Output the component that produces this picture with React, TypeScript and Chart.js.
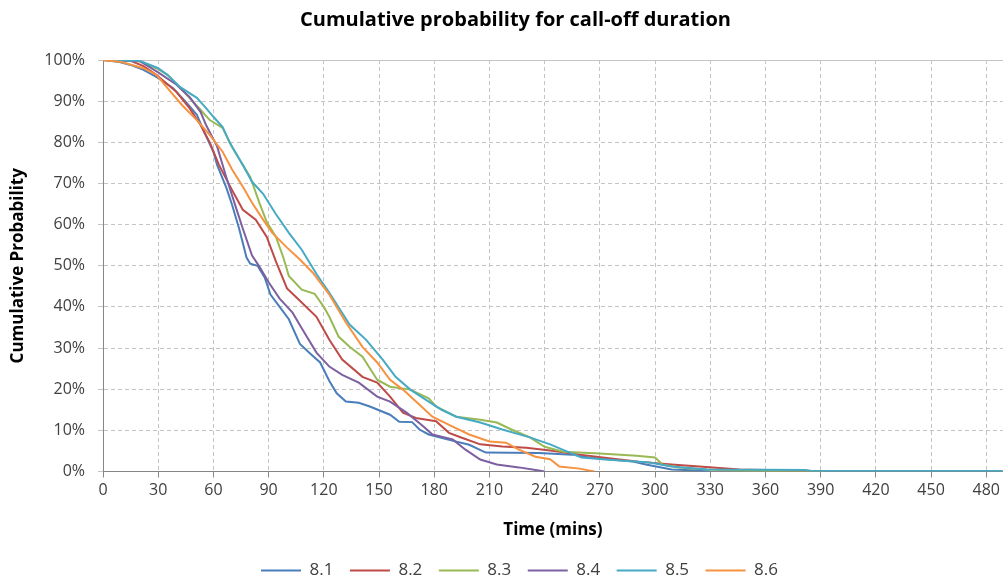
import { useEffect, useRef } from "react";
import { Chart, registerables } from "chart.js";

Chart.register(...registerables);

const FONT = "'Open Sans', sans-serif";

const seriesNames = ["8.1", "8.2", "8.3", "8.4", "8.5", "8.6"];
const seriesColors = ["#4A7EBB", "#BE4B48", "#98B954", "#7D60A0", "#46AAC5", "#F69240"];

const xTickValues = [0, 30, 60, 90, 120, 150, 180, 210, 240, 270, 300, 330, 360, 390, 420, 450, 480];
const yTickValues = [0, 10, 20, 30, 40, 50, 60, 70, 80, 90, 100];

// 8.1
const t81 = [0, 9, 15, 22, 29, 38, 45, 51, 55, 60, 62, 67, 70, 74, 78, 80, 84, 88, 91, 96, 101, 107, 113, 118, 123, 127, 132, 139, 145, 156, 161, 168, 172, 177, 187, 199, 208, 237, 255, 264, 288, 295, 309, 320, 330];
const p81 = [100, 99.5, 98.8, 97.6, 95.9, 93.2, 89.8, 86.7, 82.5, 77.7, 74.5, 69, 65, 59, 52, 50.5, 50, 47, 43, 40, 37, 31, 28.5, 26.5, 22, 19, 17, 16.7, 15.8, 13.8, 12.1, 12, 10.2, 9, 7.8, 6.5, 4.6, 4.5, 4.1, 3.4, 2.4, 1.7, 0.5, 0.3, 0];
// 8.2
const t82 = [0, 15, 22, 29, 40, 47, 53, 58, 63, 70, 76, 83, 89, 94, 100, 107, 116, 123, 130, 141, 149, 156, 163, 170, 181, 188, 195, 205, 217, 230, 243, 259, 275, 291, 309, 324, 346, 380, 390];
const p82 = [100, 99.8, 98.5, 96.4, 92.2, 88.3, 84.2, 80, 74.5, 68.5, 63.6, 61.2, 57, 51, 44.5, 41.5, 37.6, 32, 27.2, 23, 21.6, 18.2, 14.3, 13, 12.2, 9.4, 8.2, 6.6, 6.1, 5.8, 5.1, 4.1, 3.2, 2.4, 1.7, 1.2, 0.5, 0.2, 0];
// 8.3
const t83 = [0, 20, 30, 35, 42, 47, 53, 58, 65, 70, 75, 80, 85, 89, 94, 98, 101, 108, 115, 120, 123, 128, 134, 141, 149, 156, 167, 177, 181, 192, 205, 214, 222, 232, 240, 250, 270, 290, 300, 304, 313, 328, 350, 390];
const p83 = [100, 99.7, 97.8, 96.4, 93.2, 90.8, 87.9, 85.4, 83.5, 79, 75.2, 71.6, 65.3, 60.6, 57, 52, 47.5, 44.2, 43.2, 40, 37.6, 32.8, 30.3, 27.9, 22.3, 20.6, 19.9, 17.8, 15.8, 13.3, 12.6, 11.9, 10.2, 8.3, 6, 4.8, 4.4, 3.8, 3.4, 1.7, 1, 0.5, 0.2, 0];
// 8.4
const t84 = [0, 20, 30, 40, 47, 53, 56, 62, 67, 72, 76, 81, 85, 90, 96, 103, 108, 116, 123, 130, 139, 149, 156, 165, 174, 179, 190, 197, 205, 214, 226, 236, 240];
const p84 = [100, 99.7, 97, 94, 91, 87.4, 84.2, 79, 71.5, 64.5, 59, 52.5, 49.8, 46, 42, 38.6, 34.8, 28.9, 25.5, 23.5, 21.6, 18.2, 17, 14.3, 11, 9, 7.8, 5.3, 2.9, 1.7, 1, 0.3, 0];
// 8.5
const t85 = [0, 20, 30, 35, 42, 51, 56, 60, 65, 69, 76, 81, 87, 94, 101, 108, 116, 123, 134, 143, 152, 159, 167, 177, 184, 192, 205, 217, 232, 243, 252, 260, 273, 297, 309, 328, 360, 382, 385, 489];
const p85 = [100, 99.8, 98, 96.4, 93.4, 90.8, 88.3, 86.2, 83.7, 79.8, 74.5, 70.4, 67.5, 62.5, 58, 53.9, 48, 43.4, 35.7, 32, 27.2, 23, 19.9, 17, 15, 13.3, 11.9, 10.2, 8.3, 6.6, 4.9, 3.4, 2.9, 2.2, 1.2, 0.5, 0.4, 0.35, 0.1, 0.1];
// 8.6
const t86 = [0, 10, 22, 29, 36, 43, 51, 58, 65, 70, 76, 81, 87, 92, 100, 107, 114, 123, 132, 141, 149, 156, 163, 172, 179, 190, 199, 210, 219, 226, 235, 243, 248, 259, 267];
const p86 = [100, 99.5, 98, 96.4, 92.7, 89, 85.4, 81.8, 77.7, 73.5, 69.2, 65.3, 61.2, 58, 54.4, 51.5, 48.3, 43, 36.2, 30.3, 26.5, 22.3, 19.9, 16.2, 13.3, 10.9, 9, 7.3, 7, 5.3, 3.6, 3, 1.2, 0.7, 0];

const seriesTimes = [t81, t82, t83, t84, t85, t86];
const seriesProbs = [p81, p82, p83, p84, p85, p86];

// shifts the title and legend slightly right, and draws the plot area's solid top border
const layoutTweaks = {
  id: "layoutTweaks",
  afterLayout(chart: any) {
    if (chart.titleBlock) {
      chart.titleBlock.left += 14;
      chart.titleBlock.right += 14;
    }
    if (chart.legend) {
      chart.legend.left += 18;
      chart.legend.right += 18;
    }
  },
  beforeDatasetsDraw(chart: any) {
    const { ctx, chartArea } = chart;
    ctx.save();
    ctx.strokeStyle = "#c4c4c4";
    ctx.lineWidth = 1;
    ctx.setLineDash([]);
    ctx.beginPath();
    ctx.moveTo(chartArea.left, chartArea.top + 0.5);
    ctx.lineTo(chartArea.right, chartArea.top + 0.5);
    ctx.stroke();
    ctx.restore();
  },
};

export default function App() {
  const canvasRef = useRef<HTMLCanvasElement | null>(null);

  useEffect(() => {
    if (!canvasRef.current) return;
    const tickFont = { family: FONT, size: 16 };
    const titleFont = { family: FONT, size: 17, weight: "bold" as const };
    const chart = new Chart(canvasRef.current, {
      type: "line",
      plugins: [layoutTweaks],
      data: {
        datasets: seriesNames.map((name, i) => ({
          label: name,
          data: seriesTimes[i].map((x, j) => ({ x, y: seriesProbs[i][j] })),
          borderColor: seriesColors[i],
          backgroundColor: seriesColors[i],
          borderWidth: 2,
          pointRadius: 0,
          tension: 0,
          fill: false,
          order: seriesNames.length - i,
        })),
      },
      options: {
        animation: false,
        responsive: false,
        maintainAspectRatio: false,
        layout: { padding: { top: 0, left: 0, right: 0, bottom: -10 } },
        plugins: {
          title: {
            display: true,
            text: "Cumulative probability for call-off duration",
            color: "#000000",
            font: { family: FONT, size: 20, weight: "bold" },
            padding: { top: 8, bottom: 28 },
          },
          legend: {
            position: "bottom",
            labels: {
              boxWidth: 40,
              boxHeight: 2,
              padding: 16.5,
              color: "#404040",
              font: { family: FONT, size: 17 },
              sort: (a: any, b: any) => a.datasetIndex - b.datasetIndex,
              generateLabels: (c: any) =>
                (Chart.defaults.plugins.legend.labels as any)
                  .generateLabels(c)
                  .map((l: any) => ({ ...l, lineWidth: 0, fillStyle: seriesColors[l.datasetIndex] })),
            },
          },
          tooltip: { enabled: false },
        },
        scales: {
          x: {
            type: "linear",
            min: 0,
            max: 489,
            afterBuildTicks: (s: any) => {
              s.ticks = xTickValues.map((v) => ({ value: v }));
            },
            afterFit: (s: any) => {
              s.height = 74;
            },
            ticks: {
              color: "#404040",
              font: tickFont,
              padding: 3,
              maxRotation: 0,
              autoSkip: false,
              callback: (v: any) => String(v),
            },
            grid: {
              color: "#c4c4c4",
              lineWidth: 1,
              tickColor: "#868686",
              tickLength: 6,
              tickBorderDash: [],
            },
            border: { display: true, color: "#868686", width: 1, dash: [4, 3] },
            title: {
              display: true,
              text: "Time (mins)",
              color: "#000000",
              font: titleFont,
              padding: { top: 0, bottom: 5 },
            },
          },
          y: {
            type: "linear",
            min: 0,
            max: 100,
            afterBuildTicks: (s: any) => {
              s.ticks = yTickValues.map((v) => ({ value: v }));
            },
            afterFit: (s: any) => {
              s.width = 103;
            },
            ticks: {
              color: "#404040",
              font: tickFont,
              padding: 13,
              callback: (v: any) => v + "%",
            },
            grid: {
              color: "#c4c4c4",
              lineWidth: 1,
              tickColor: "#c4c4c4",
              tickLength: 5,
            },
            border: { display: true, color: "#868686", width: 1, dash: [4, 3] },
            title: {
              display: true,
              text: "Cumulative Probability",
              color: "#000000",
              font: titleFont,
              padding: { top: 8, bottom: 0 },
            },
          },
        },
      } as any,
    });
    return () => chart.destroy();
  }, []);

  return (
    <div style={{ position: "absolute", left: 0, top: 0, width: 1003, height: 579, background: "#ffffff" }}>
      <canvas ref={canvasRef} width={1003} height={579} style={{ width: 1003, height: 579, display: "block" }} />
    </div>
  );
}
